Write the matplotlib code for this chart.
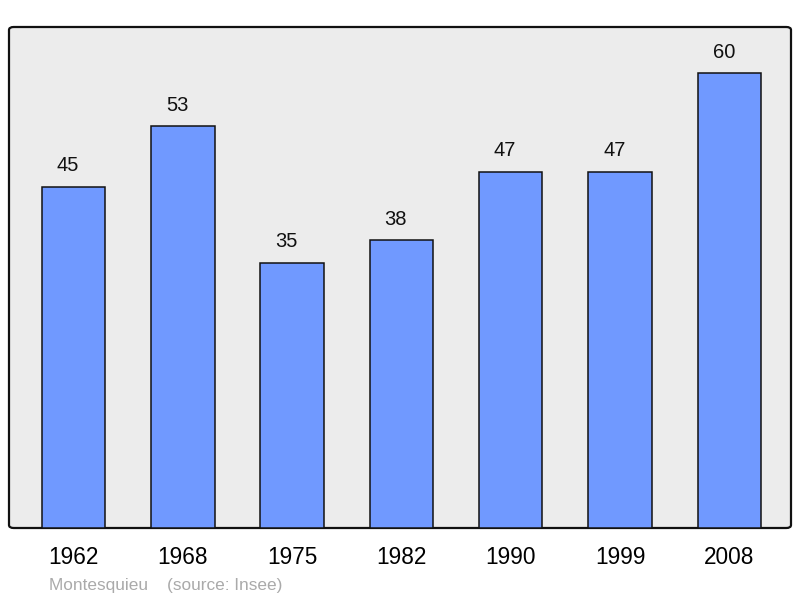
import matplotlib
matplotlib.use("Agg")
import matplotlib.pyplot as plt
from matplotlib.patches import FancyBboxPatch

years = ["1962", "1968", "1975", "1982", "1990", "1999", "2008"]
population = [45, 53, 35, 38, 47, 47, 60]
source_text = "Montesquieu    (source: Insee)"

plt.rcParams['font.family'] = ['Liberation Sans', 'DejaVu Sans']

fig = plt.figure(figsize=(8, 5.98), dpi=100)
ax = fig.add_axes([9/800, 70/598, 782/800, 501/598])
ax.set_facecolor('none')
bg = FancyBboxPatch((0, 0), 1, 1, boxstyle="round,pad=0,rounding_size=0.006",
                    transform=ax.transAxes, facecolor='#ececec', edgecolor='#111111',
                    linewidth=1.6, zorder=0, clip_on=False)
ax.add_patch(bg)

x = list(range(len(years)))
bars = ax.bar(x, population, width=0.58, color='#7099ff', edgecolor='#111111',
              linewidth=1.1, zorder=2)
for xi, v in zip(x, population):
    ax.annotate(str(v), (xi, v), xytext=(-4, 11), textcoords='offset points',
                ha='center', va='baseline', fontsize=14.5, color='#111111')

ax.set_xlim(-0.59, 6.564)
ax.set_ylim(0, 66.07)
ax.set_xticks(x)
ax.set_xticklabels(years, fontsize=16.3)
ax.tick_params(axis='x', length=0, pad=13)
ax.set_yticks([])
for s in ax.spines.values():
    s.set_visible(False)

fig.text(49/800, 1 - 590/598, source_text, ha='left', va='baseline',
         fontsize=12.4, color='#aaaaaa')

fig.savefig("out.png", dpi=100)
